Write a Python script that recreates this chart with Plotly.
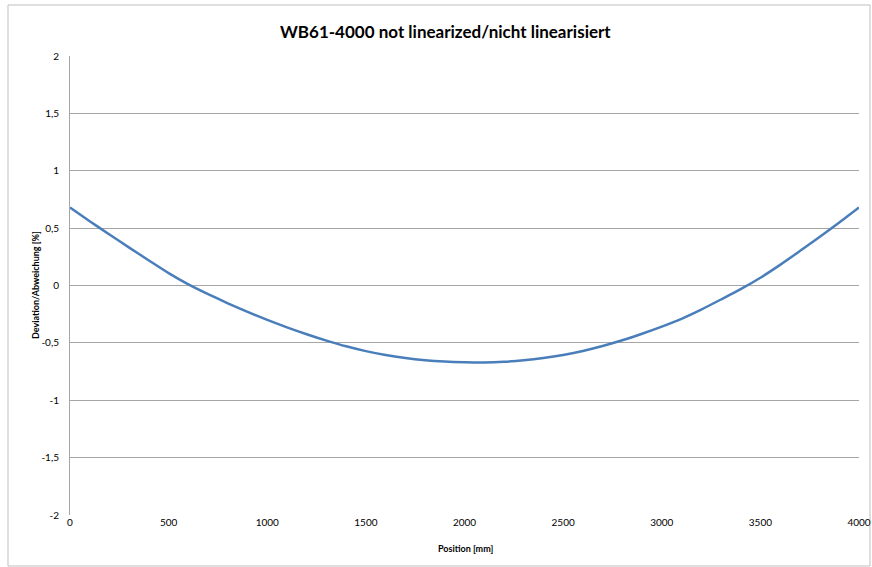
import plotly.graph_objects as go

# Data
position_mm = [0, 100, 200, 300, 400, 500, 600, 700, 800, 900,
               1000, 1100, 1200, 1300, 1400, 1500, 1600, 1700, 1800, 1900,
               2000, 2100, 2200, 2300, 2400, 2500, 2600, 2700, 2800, 2900,
               3000, 3100, 3200, 3300, 3400, 3500, 3600, 3700, 3800, 3900, 4000]
deviation_pct = [0.68, 0.56, 0.445, 0.33, 0.218, 0.108, 0.01, -0.075, -0.155, -0.23,
                 -0.30, -0.365, -0.425, -0.48, -0.53, -0.572, -0.606, -0.632, -0.651, -0.663,
                 -0.669, -0.671, -0.665, -0.652, -0.632, -0.605, -0.57, -0.527, -0.477, -0.42,
                 -0.358, -0.29, -0.21, -0.122, -0.032, 0.068, 0.18, 0.30, 0.422, 0.55, 0.68]

y_tick_vals = [-2, -1.5, -1, -0.5, 0, 0.5, 1, 1.5, 2]
y_tick_text = ["-2", "-1,5", "-1", "-0,5", "0", "0,5", "1", "1,5", "2"]
x_tick_vals = [0, 500, 1000, 1500, 2000, 2500, 3000, 3500, 4000]
x_tick_text = ["0", "500", "1000", "1500", "2000", "2500", "3000", "3500", "4000"]

title_text = "WB61-4000 not linearized/nicht linearisiert"
x_title = "Position [mm]"
y_title = "Deviation/Abweichung [%]"

FONT = "Lato"
GRID = "#A6A6A6"

fig = go.Figure()
fig.add_trace(go.Scatter(
    x=position_mm, y=deviation_pct, mode="lines",
    line=dict(color="#4A7EBB", width=2.5, shape="spline", smoothing=0.6),
    showlegend=False, hoverinfo="x+y",
))

fig.update_layout(
    width=872, height=567,
    margin=dict(l=70, r=13, t=56, b=52, autoexpand=False),
    paper_bgcolor="white", plot_bgcolor="white",
    font=dict(family=FONT, color="black", size=10),
    showlegend=False,
    annotations=[
        dict(text="<b>" + title_text + "</b>", xref="paper", yref="paper",
             x=(445 - 70) / 789, y=1.0 + (56 - 32) / 459, xanchor="center", yanchor="middle",
             showarrow=False, font=dict(family=FONT, size=17, color="black")),
        dict(text="<b>" + x_title + "</b>", xref="paper", yref="paper",
             x=(465 - 70) / 789, y=-(548 - 515) / 459, xanchor="center", yanchor="middle",
             showarrow=False, font=dict(family=FONT, size=9, color="black")),
        dict(text="<b>" + y_title + "</b>", xref="paper", yref="paper",
             x=-(70 - 35) / 789, y=(515 - 285) / 459, xanchor="center", yanchor="middle",
             textangle=-90, showarrow=False, font=dict(family=FONT, size=9, color="black")),
    ],
    shapes=[
        dict(type="rect", xref="paper", yref="paper",
             x0=(8 - 70) / 789, x1=(870 - 70) / 789,
             y0=(515 - 566) / 459, y1=(515 - 5) / 459,
             line=dict(color="#BFBFBF", width=1), fillcolor="rgba(0,0,0,0)", layer="below"),
    ],
)

fig.update_xaxes(
    range=[0, 4000], tickvals=x_tick_vals, ticktext=x_tick_text,
    showgrid=False, zeroline=False, showline=False, ticks="",
    automargin=False,
    tickfont=dict(family=FONT, size=10, color="black"),
)
fig.update_yaxes(
    range=[-2, 2], tickvals=y_tick_vals, ticktext=y_tick_text,
    showgrid=True, gridcolor=GRID, gridwidth=1, zeroline=False,
    showline=True, linecolor=GRID, linewidth=1, ticks="",
    automargin=False, ticklabelstandoff=8,
    tickfont=dict(family=FONT, size=10, color="black"),
)

fig.write_html(
    "out.html",
    config={"displayModeBar": False},
    post_script="document.body.style.margin='0';document.body.style.overflow='hidden';",
)
